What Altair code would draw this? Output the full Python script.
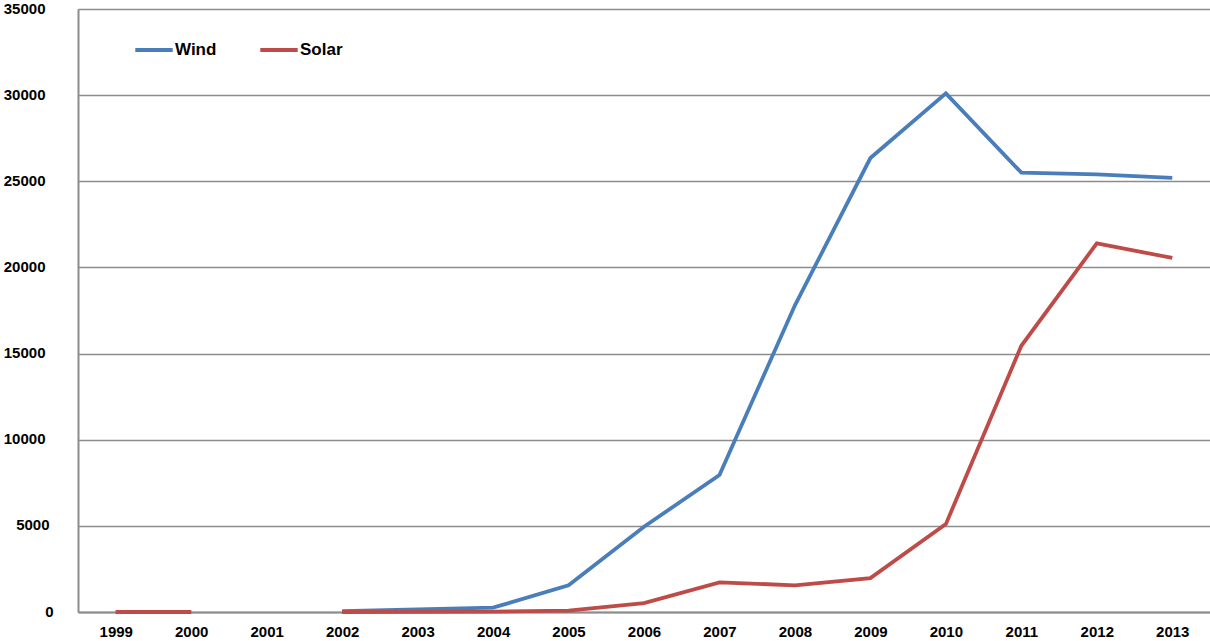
import altair as alt
import pandas as pd

years = [str(y) for y in range(1999, 2014)]
wind = [0, 0, None, 50, 150, 250, 1550, 4950, 7950, 17800, 26350, 30100, 25500, 25400, 25200]
solar = [0, 0, None, 0, 10, 20, 80, 520, 1720, 1550, 1970, 5100, 15450, 21400, 20550]

rows = []
for name, vals in [("Wind", wind), ("Solar", solar)]:
    seg = 0
    for y, v in zip(years, vals):
        if v is None:
            seg += 1
            continue
        rows.append({"Year": y, "Value": v, "Series": name, "Seg": f"{name}-{seg}"})
df = pd.DataFrame(rows)

font = "Liberation Sans"

chart = alt.Chart(df).mark_line(strokeWidth=3.8).encode(
    x=alt.X("Year:O", sort=years, scale=alt.Scale(domain=years, type="point", padding=0.5),
            axis=alt.Axis(title=None, labelAngle=0, ticks=False, labelPadding=12,
                          labelFont=font, labelFontWeight="bold", labelFontSize=15,
                          labelColor="#000000", domainColor="#8c8c8c", domainWidth=2, grid=False)),
    y=alt.Y("Value:Q", scale=alt.Scale(domain=[0, 35000], nice=False),
            axis=alt.Axis(title=None, values=list(range(0, 35001, 5000)), ticks=False,
                          format="d", labelAlign="right",
                          labelPadding={"condition": [{"test": "datum.value == 0", "value": 25},
                                                      {"test": "datum.value < 10000", "value": 29}],
                                        "value": 33},
                          labelFont=font,
                          labelFontWeight="bold", labelFontSize=15, labelColor="#000000",
                          domainColor="#8c8c8c", domainWidth=2, gridColor="#8c8c8c",
                          gridWidth=1.5, labelOffset=-1)),
    color=alt.Color("Series:N", sort=["Wind", "Solar"],
                    scale=alt.Scale(domain=["Wind", "Solar"], range=["#4a7ebb", "#be4b48"]),
                    legend=alt.Legend(title=None, orient="none", legendX=55, legendY=20,
                                      direction="horizontal", symbolType="stroke",
                                      symbolSize=1400, symbolStrokeWidth=4,
                                      labelFont=font, labelFontWeight="bold",
                                      labelFontSize=17, labelColor="#000000",
                                      labelOffset=0, columnPadding=35)),
    detail="Seg:N",
    order=alt.Order("Year:O"),
).properties(
    width=1132, height=603,
    autosize=alt.AutoSizeParams(type="none"),
    padding={"left": 78, "top": 9, "right": 0, "bottom": 29},
).configure_view(stroke=None).configure(background="#ffffff")

chart.save("out.html", embed_options={"renderer": "svg", "actions": False})
